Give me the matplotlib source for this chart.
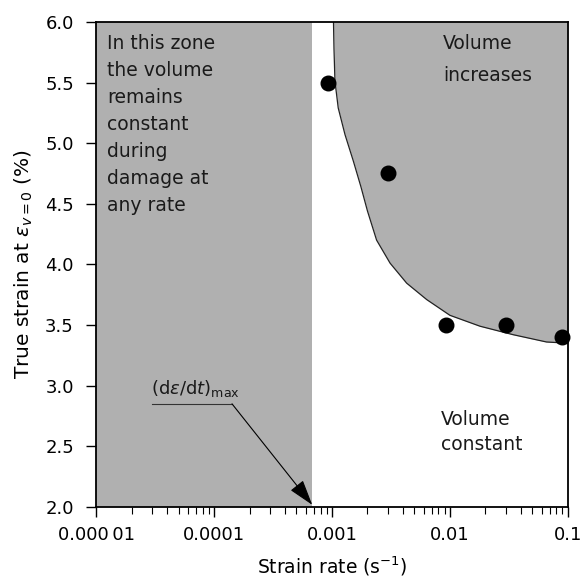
import numpy as np
import matplotlib.pyplot as plt
from matplotlib.ticker import FixedLocator, LogLocator, NullFormatter

plt.rcParams['font.family'] = ['DejaVu Sans']
plt.rcParams['mathtext.fontset'] = 'dejavusans'

# measured points
rate = [0.00092, 0.003, 0.0092, 0.03, 0.09]
strain = [5.5, 4.75, 3.5, 3.5, 3.4]

# boundary between "volume increases" and "volume constant"
curve_rate = [0.00103, 0.00104, 0.00106, 0.00113, 0.00129, 0.00152, 0.00176,
              0.00200, 0.00239, 0.00311, 0.0043, 0.00635, 0.0100, 0.0180,
              0.0344, 0.0659, 0.1]
curve_strain = [6.0, 5.78, 5.51, 5.29, 5.07, 4.85, 4.64,
                4.44, 4.20, 4.01, 3.845, 3.71, 3.58, 3.49,
                3.42, 3.36, 3.35]

# maximum strain rate for constant-volume damage
dmax = 0.00068
leader_x = [3.0e-5, 1.42e-4]
leader_y = 2.85

xticks = [1e-5, 1e-4, 1e-3, 1e-2, 1e-1]
xlabels = ['0.000\u200901', '0.0001', '0.001', '0.01', '0.1']
yticks = [2.0, 2.5, 3.0, 3.5, 4.0, 4.5, 5.0, 5.5, 6.0]

shade = '#b0b0b0'
ink = '#1a1a1a'

fig = plt.figure(figsize=(5.86, 5.76), dpi=100)
ax = fig.add_axes([0.164, 0.12, 0.805, 0.842])
ax.set_xscale('log')
ax.set_xlim(1e-5, 1e-1)
ax.set_ylim(2.0, 6.0)

# shaded zones
ax.axvspan(1e-5, dmax, color=shade, lw=0, zorder=0)
ax.fill_betweenx(curve_strain, curve_rate, 1e-1, color=shade, lw=0, zorder=0)
ax.plot(curve_rate, curve_strain, color='#222222', lw=0.9, zorder=1)

ax.scatter(rate, strain, s=110, color='black', zorder=3, clip_on=False)

# (de/dt)max leader and arrow
ax.plot(leader_x, [leader_y, leader_y], color='#333333', lw=0.8)
ax.annotate('', xy=(dmax, 2.017), xytext=(leader_x[1], leader_y),
            arrowprops=dict(arrowstyle='-|>,head_length=1.6,head_width=0.5',
                            color='black', lw=0.8, shrinkA=0, shrinkB=0))
ax.text(2.9e-5, 2.98, r'(d$\varepsilon$/d$t$)$_{\rm max}$', fontsize=13,
        color=ink, va='center')

ax.text(0.023, 0.975, 'In this zone\nthe volume\nremains\nconstant\nduring\ndamage at\nany rate',
        transform=ax.transAxes, fontsize=13.5, va='top', ha='left',
        linespacing=1.53, color=ink)
ax.text(0.735, 0.975, 'Volume\nincreases', transform=ax.transAxes, fontsize=13.5,
        va='top', ha='left', linespacing=1.85, color=ink)
ax.text(0.731, 0.2, 'Volume\nconstant', transform=ax.transAxes, fontsize=13.5,
        va='top', ha='left', linespacing=1.42, color=ink)

ax.xaxis.set_major_locator(FixedLocator(xticks))
ax.set_xticklabels(xlabels)
ax.xaxis.set_minor_locator(LogLocator(base=10, subs=np.arange(2, 10)))
ax.xaxis.set_minor_formatter(NullFormatter())
ax.set_yticks(yticks)
ax.set_yticklabels([f'{v:.1f}' for v in yticks])

ax.tick_params(axis='both', which='major', direction='out', length=7, width=1,
               labelsize=13)
ax.tick_params(axis='y', which='major', pad=9)
ax.tick_params(axis='x', which='major', pad=7)
ax.tick_params(axis='x', which='minor', direction='out', length=5, width=0.8)
for s in ax.spines.values():
    s.set_linewidth(1.3)

ax.set_xlabel(r'Strain rate (s$^{-1}$)', fontsize=13.5, labelpad=7)
ax.set_ylabel(r'True strain at $\varepsilon_{v=0}$ (%)', fontsize=14.5, labelpad=7)

fig.savefig('out.png', dpi=100)
